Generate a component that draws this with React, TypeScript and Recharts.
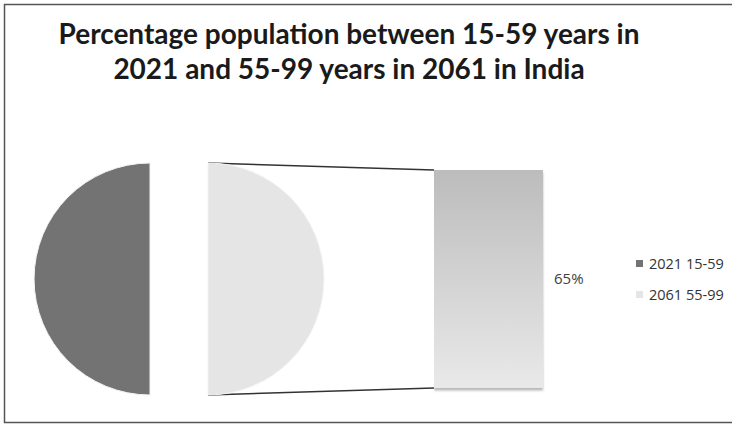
import React from 'react';
import { PieChart, Pie, Cell, BarChart, Bar, XAxis, YAxis, LabelList, Legend } from 'recharts';

// data (bar-of-pie: the second item is split out into the bar)
const categories = ['2021 15-59', '2061 55-99'];
const values = [65, 65];
const sliceColors = ['#737373', '#e5e5e5'];
const barCategories = ['2061 55-99'];
const barValues = [65];
const titleLines = ['Percentage population between 15-59 years in', '2021 and 55-99 years in 2061 in India'];

const pieData = categories.map((name, i) => ({ name, value: values[i] }));
const barData = barCategories.map((name, i) => ({ name, value: barValues[i] }));

const W = 732;
const H = 425;
const PIE_CX = 150;
const PIE_CY = 279;
const PIE_R = 116;
const EXPLODE = 58;
const BAR_LEFT = 434;
const BAR_TOP = 170;
const BAR_W = 109;
const BAR_H = 218;

const textFont = '"Open Sans", "Noto Sans", sans-serif';

const LegendBox = () => (
  <div style={{ fontFamily: textFont, fontSize: 14.5, color: '#333' }}>
    {categories.map((c, i) => (
      <div key={c} style={{ display: 'flex', alignItems: 'center', height: 31 }}>
        <span style={{ width: 7, height: 7, background: sliceColors[i], marginRight: 6, display: 'inline-block' }} />
        <span>{c}</span>
      </div>
    ))}
  </div>
);

const BarShape = (props: any) => {
  const { x, y, width, height } = props;
  return <rect x={x} y={y} width={width} height={height} fill="url(#barGrad)" filter="url(#barShadow)" />;
};

export default function App() {
  return (
    <div style={{ position: 'absolute', left: 0, top: 0, width: W, height: H, overflow: 'hidden', background: '#fff' }}>
      {/* frame + connector lines */}
      <svg width={W} height={H} style={{ position: 'absolute', left: 0, top: 0 }}>
        <rect x={4.5} y={4.5} width={740} height={418} fill="none" stroke="#555" strokeWidth={1.5} />
        <line x1={PIE_CX + EXPLODE} y1={PIE_CY - PIE_R} x2={BAR_LEFT} y2={BAR_TOP} stroke="#333" strokeWidth={1.5} />
        <line x1={PIE_CX + EXPLODE} y1={PIE_CY + PIE_R} x2={BAR_LEFT} y2={BAR_TOP + BAR_H} stroke="#333" strokeWidth={1.5} />
      </svg>

      <div
        style={{
          position: 'absolute',
          left: 0,
          top: 16,
          width: 698,
          textAlign: 'center',
          fontFamily: 'Lato, "Open Sans", sans-serif',
          fontWeight: 700,
          fontSize: 28,
          lineHeight: '35px',
          color: '#1a1a1a'
        }}
      >
        {titleLines.map((t) => (
          <div key={t}>{t}</div>
        ))}
      </div>

      <div style={{ position: 'absolute', left: 0, top: 0 }}>
        <PieChart width={W} height={H} margin={{ top: 0, right: 0, bottom: 0, left: 0 }}>
          <Pie
            data={pieData}
            dataKey="value"
            nameKey="name"
            cx={PIE_CX}
            cy={PIE_CY}
            outerRadius={PIE_R}
            startAngle={90}
            endAngle={450}
            isAnimationActive={false}
            stroke="#f4f4f4"
            strokeWidth={1}
          >
            {pieData.map((d, i) => (
              <Cell key={d.name} fill={i === 0 ? sliceColors[0] : 'none'} stroke={i === 0 ? '#f4f4f4' : 'none'} />
            ))}
          </Pie>
          <Pie
            data={pieData}
            dataKey="value"
            nameKey="name"
            cx={PIE_CX + EXPLODE}
            cy={PIE_CY}
            outerRadius={PIE_R}
            startAngle={90}
            endAngle={450}
            isAnimationActive={false}
            stroke="#f4f4f4"
            strokeWidth={1}
          >
            {pieData.map((d, i) => (
              <Cell key={d.name} fill={i === 1 ? sliceColors[1] : 'none'} stroke={i === 1 ? '#f4f4f4' : 'none'} />
            ))}
          </Pie>
          <Legend
            layout="vertical"
            content={() => <LegendBox />}
            wrapperStyle={{ position: 'absolute', left: 636, top: 248, width: 100 }}
          />
        </PieChart>
      </div>

      <div style={{ position: 'absolute', left: BAR_LEFT, top: BAR_TOP }}>
        <BarChart
          width={BAR_W + 80}
          height={BAR_H + 6}
          data={barData}
          margin={{ top: 0, right: 80, bottom: 6, left: 0 }}
          barCategoryGap={0}
          style={{ overflow: 'visible' }}
        >
          <defs>
            <linearGradient id="barGrad" x1="0" y1="0" x2="0" y2="1">
              <stop offset="0%" stopColor="#bcbcbc" />
              <stop offset="100%" stopColor="#e9e9e9" />
            </linearGradient>
            <filter id="barShadow" x="-10%" y="-10%" width="120%" height="120%">
              <feDropShadow dx="0" dy="2.5" stdDeviation="1.2" floodColor="#000" floodOpacity="0.28" />
            </filter>
          </defs>
          <XAxis dataKey="name" hide />
          <YAxis hide domain={[0, 'dataMax']} />
          <Bar dataKey="value" isAnimationActive={false} shape={<BarShape />}>
            <LabelList
              dataKey="value"
              position="right"
              offset={11}
              formatter={(v: any) => `${v}%`}
              fill="#404040"
              fontSize={15}
              fontFamily={textFont}
            />
          </Bar>
        </BarChart>
      </div>
    </div>
  );
}
